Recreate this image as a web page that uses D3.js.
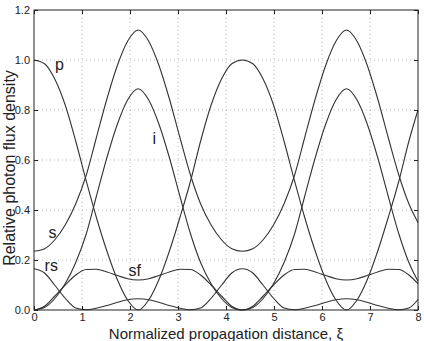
<!DOCTYPE html>
<html>
<head>
<meta charset="utf-8">
<script src="https://d3js.org/d3.v7.min.js"></script>
<style>
  body { margin: 0; background: #fff; }
  text { font-family: "Liberation Sans", Arial, sans-serif; fill: #222; }
  .curve { fill: none; stroke: #333; stroke-width: 1.1; }
  .grid line { stroke: #bbb; stroke-dasharray: 1,3; }
</style>
</head>
<body>
<svg id="chart" width="424" height="341"></svg>
<script>
// propagation distance samples
var xi = [0, 0.22, 0.43, 0.65, 0.87, 1.09, 1.30, 1.52, 1.74, 1.95, 2.17, 2.39, 2.60, 2.82, 3.04, 3.26, 3.47, 3.69, 3.91, 4.12,
          4.34, 4.56, 4.77, 4.99, 5.21, 5.43, 5.64, 5.86, 6.08, 6.29, 6.51, 6.73, 6.94, 7.16, 7.38, 7.60, 7.81, 8.0];

// relative photon flux of each wave
var pump = [1.0, 0.985, 0.925, 0.82, 0.675, 0.515, 0.37, 0.235, 0.12, 0.04, 0.0,
            0.04, 0.12, 0.235, 0.37, 0.515, 0.675, 0.82, 0.925, 0.985, 1.0,
            0.985, 0.925, 0.82, 0.675, 0.515, 0.37, 0.235, 0.12, 0.04, 0.0,
            0.04, 0.12, 0.235, 0.37, 0.515, 0.675, 0.80];
var signal = [0.235, 0.245, 0.28, 0.34, 0.425, 0.54, 0.69, 0.845, 0.98, 1.075, 1.12,
              1.075, 0.98, 0.845, 0.69, 0.54, 0.425, 0.34, 0.28, 0.245, 0.235,
              0.245, 0.28, 0.34, 0.425, 0.54, 0.69, 0.845, 0.98, 1.075, 1.12,
              1.075, 0.98, 0.845, 0.69, 0.54, 0.425, 0.35];
var idler = [0, 0.01, 0.045, 0.105, 0.19, 0.305, 0.455, 0.61, 0.745, 0.84, 0.885,
             0.84, 0.745, 0.61, 0.455, 0.305, 0.19, 0.105, 0.045, 0.01, 0,
             0.01, 0.045, 0.105, 0.19, 0.305, 0.455, 0.61, 0.745, 0.84, 0.885,
             0.84, 0.745, 0.61, 0.455, 0.305, 0.19, 0.115];
var rs = [0.165, 0.148, 0.10, 0.047, 0.008, 0.001, 0.007, 0.018, 0.031, 0.041, 0.045,
          0.041, 0.031, 0.018, 0.007, 0.001, 0.008, 0.047, 0.10, 0.148, 0.165,
          0.148, 0.10, 0.047, 0.008, 0.001, 0.007, 0.018, 0.031, 0.041, 0.045,
          0.041, 0.031, 0.018, 0.007, 0.001, 0.008, 0.042];
var sf = [0, 0.015, 0.055, 0.10, 0.14, 0.162, 0.163, 0.152, 0.138, 0.125, 0.12,
          0.125, 0.138, 0.152, 0.163, 0.162, 0.14, 0.10, 0.055, 0.015, 0,
          0.015, 0.055, 0.10, 0.14, 0.162, 0.163, 0.152, 0.138, 0.125, 0.12,
          0.125, 0.138, 0.152, 0.163, 0.162, 0.14, 0.105];

var xTicks = [0, 1, 2, 3, 4, 5, 6, 7, 8];
var yTicks = [0, 0.2, 0.4, 0.6, 0.8, 1.0, 1.2];

var series = [pump, signal, idler, rs, sf];
var labels = [
  { text: "p", x: 0.44, y: 0.96 },
  { text: "s", x: 0.3, y: 0.29 },
  { text: "rs", x: 0.22, y: 0.155 },
  { text: "sf", x: 1.97, y: 0.135 },
  { text: "i", x: 2.47, y: 0.665 }
];

var margin = { top: 10, right: 6, bottom: 31, left: 34 };
var width = 424 - margin.left - margin.right,
    height = 341 - margin.top - margin.bottom;

var svg = d3.select("#chart");
var g = svg.append("g").attr("transform", `translate(${margin.left},${margin.top})`);

var x = d3.scaleLinear().domain([0, 8]).range([0, width]);
var y = d3.scaleLinear().domain([0, 1.2]).range([height, 0]);

// dotted grid
var grid = g.append("g").attr("class", "grid");
grid.selectAll(".gx").data(xTicks.slice(1, -1)).enter().append("line")
  .attr("x1", d => x(d)).attr("x2", d => x(d)).attr("y1", 0).attr("y2", height);
grid.selectAll(".gy").data(yTicks.slice(1, -1)).enter().append("line")
  .attr("y1", d => y(d)).attr("y2", d => y(d)).attr("x1", 0).attr("x2", width);

// curves
var line = d3.line()
  .x((d, i) => x(xi[i]))
  .y(d => y(d))
  .curve(d3.curveMonotoneX);

g.selectAll(".curve").data(series).enter().append("path")
  .attr("class", "curve")
  .attr("d", line);

// axes with inward ticks on all four sides
function styleAxis(sel) {
  sel.select(".domain").remove();
  sel.selectAll(".tick line").attr("stroke", "#222");
  sel.selectAll(".tick text").style("font-size", "11px").attr("fill", "#222");
}
g.append("g").attr("transform", `translate(0,${height})`)
  .call(d3.axisBottom(x).tickValues(xTicks).tickFormat(d3.format("d")).tickSizeInner(-4).tickSizeOuter(0).tickPadding(3))
  .call(styleAxis);
g.append("g")
  .call(d3.axisLeft(y).tickValues(yTicks).tickFormat(d3.format(".1f")).tickSizeInner(-4).tickSizeOuter(0).tickPadding(4))
  .call(styleAxis);
g.append("g")
  .call(d3.axisTop(x).tickValues(xTicks).tickFormat("").tickSizeInner(-4).tickSizeOuter(0))
  .call(styleAxis);
g.append("g").attr("transform", `translate(${width},0)`)
  .call(d3.axisRight(y).tickValues(yTicks).tickFormat("").tickSizeInner(-4).tickSizeOuter(0))
  .call(styleAxis);

g.append("rect")
  .attr("width", width).attr("height", height)
  .attr("fill", "none").attr("stroke", "#222").attr("stroke-width", 1);

// curve labels
g.selectAll(".lbl").data(labels).enter().append("text")
  .attr("x", d => x(d.x)).attr("y", d => y(d.y))
  .style("font-size", "16px")
  .text(d => d.text);

// axis titles
svg.append("text")
  .attr("x", margin.left + width / 2).attr("y", 339)
  .attr("text-anchor", "middle")
  .style("font-size", "15px")
  .text("Normalized propagation distance, \u03be");

svg.append("text")
  .attr("transform", `translate(15,168) rotate(-90)`)
  .attr("text-anchor", "middle")
  .style("font-size", "16px")
  .text("Relative photon flux density");
</script>
</body>
</html>
